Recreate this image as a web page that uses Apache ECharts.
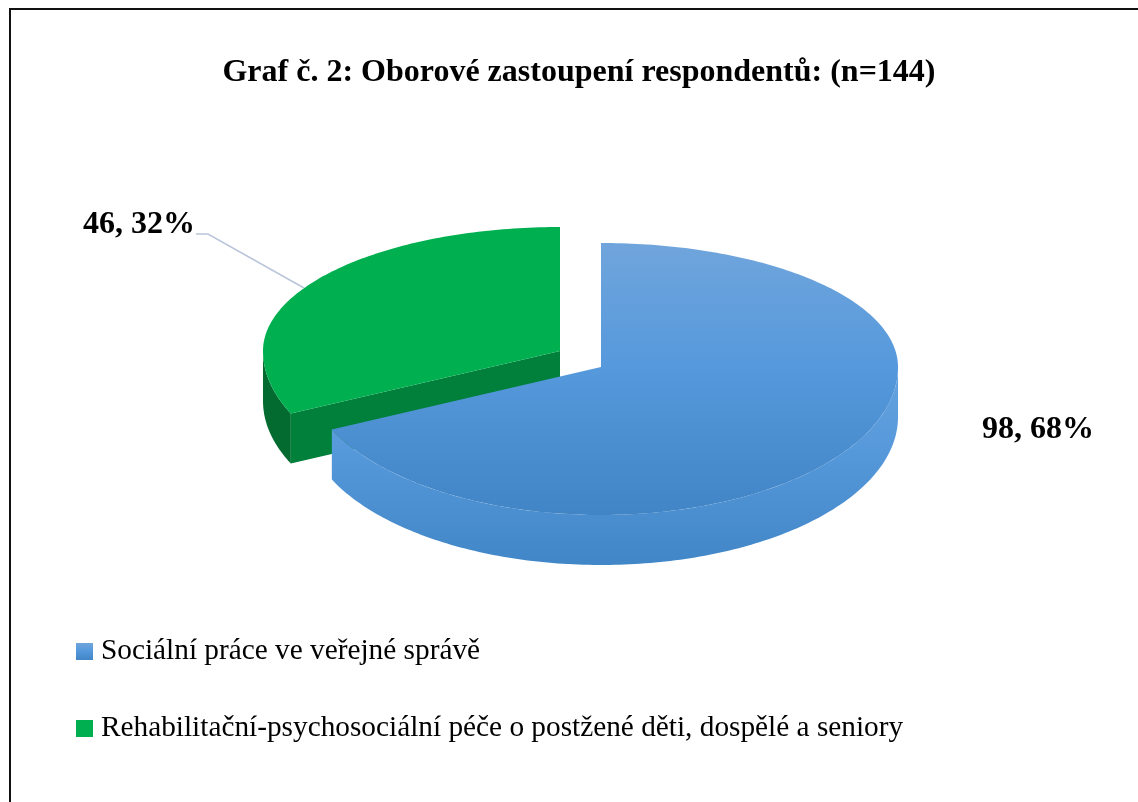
<!DOCTYPE html>
<html>
<head>
<meta charset="utf-8">
<script src="https://cdn.jsdelivr.net/npm/echarts@6/dist/echarts.min.js"></script>
<style>
  html, body { margin: 0; padding: 0; background: #fff; overflow: hidden; }
  #chart { width: 1138px; height: 802px; }
</style>
</head>
<body>
<div id="chart"></div>
<script>
const categories = ['Sociální práce ve veřejné správě', 'Rehabilitační-psychosociální péče o postžené děti, dospělé a seniory'];
const values = [98, 46];
const chartTitle = 'Graf č. 2: Oborové zastoupení respondentů: (n=144)';

const FONT = '"Liberation Serif", "Times New Roman", serif';
const total = values.reduce((a, b) => a + b, 0);

// tilted pie: the far half of the ellipse is flatter than the near one
const RX = 297, RY_FAR = 124, RY_NEAR = 148, DEPTH = 50;

function grad(top, middle, bottom) {
  return new echarts.graphic.LinearGradient(0, 0, 0, 1, [
    { offset: 0, color: top },
    { offset: 0.45, color: middle },
    { offset: 1, color: bottom }
  ]);
}

function rim(cx, cy, a) {
  const c = Math.cos(a);
  return [cx + RX * Math.sin(a), cy - (c > 0 ? RY_FAR : RY_NEAR) * c];
}

function arc(cx, cy, from, to, dy) {
  const pts = [];
  const steps = Math.max(2, Math.ceil(Math.abs(to - from) * 180 / Math.PI));
  for (let i = 0; i <= steps; i++) {
    const p = rim(cx, cy, from + (to - from) * i / steps);
    pts.push([p[0], p[1] + dy]);
  }
  return pts;
}

function poly(points, fill) {
  return { type: 'polygon', shape: { points: points }, style: { fill: fill } };
}

function sliceAngles(index) {
  let before = 0;
  for (let i = 0; i < index; i++) before += values[i];
  return [before / total * 2 * Math.PI, (before + values[index]) / total * 2 * Math.PI];
}

function labelText(index) {
  return values[index] + ', ' + Math.round(values[index] / total * 100) + '%';
}

function text(str, x, y) {
  return {
    type: 'text',
    style: { text: str, x: x, y: y, fill: '#000', font: 'bold 32px ' + FONT, textAlign: 'center', textVerticalAlign: 'middle' }
  };
}

function renderBlue() {
  const cx = 601, cy = 367;
  const [from, to] = sliceAngles(0);
  const children = [];
  // only the near part of the outer wall can be seen
  const wallTop = arc(cx, cy, Math.PI / 2, to, 0);
  const wallBottom = arc(cx, cy, Math.PI / 2, to, DEPTH).reverse();
  children.push(poly(wallTop.concat(wallBottom), grad('#66A3DF', '#5598DA', '#4186C7')));
  children.push(poly([[cx, cy]].concat(arc(cx, cy, from, to, 0)), grad('#70A5DC', '#5699DC', '#4285C6')));
  children.push(text(labelText(0), 1038, 430));
  return { type: 'group', children: children };
}

function renderGreen() {
  const cx = 560, cy = 351;
  const [from, to] = sliceAngles(1);
  const children = [];
  const wallTop = arc(cx, cy, from, 1.5 * Math.PI, 0);
  const wallBottom = arc(cx, cy, from, 1.5 * Math.PI, DEPTH).reverse();
  children.push(poly(wallTop.concat(wallBottom), '#046B30'));
  const edge = rim(cx, cy, from);
  children.push(poly([[cx, cy], edge, [edge[0], edge[1] + DEPTH], [cx, cy + DEPTH]], '#00803A'));
  children.push(poly([[cx, cy]].concat(arc(cx, cy, from, to, 0)), '#00B050'));
  children.push({
    type: 'polyline',
    shape: { points: [[196, 234], [208, 234], [304, 288]] },
    style: { fill: null, stroke: '#B9C5D9', lineWidth: 1.5 }
  });
  children.push(text(labelText(1), 139, 225));
  return { type: 'group', children: children };
}

const chart = echarts.init(document.getElementById('chart'));

chart.setOption({
  backgroundColor: '#fff',
  animation: false,
  title: {
    text: chartTitle,
    left: 574,
    top: 52,
    textAlign: 'center',
    textStyle: { fontFamily: FONT, fontSize: 32, fontWeight: 'bold', color: '#000' }
  },
  legend: {
    orient: 'vertical',
    left: 71,
    top: 632,
    icon: 'rect',
    itemWidth: 17,
    itemHeight: 17,
    itemGap: 48,
    itemStyle: { borderWidth: 0 },
    selectedMode: false,
    data: categories,
    textStyle: { fontFamily: FONT, fontSize: 29.3, color: '#000', padding: [0, 0, 0, 3] }
  },
  graphic: [{
    type: 'polyline',
    silent: true,
    shape: { points: [[10, 802], [10, 9], [1138, 9]] },
    style: { fill: null, stroke: '#111', lineWidth: 2 }
  }],
  series: [
    // green goes first, the blue slice overlaps it
    {
      type: 'custom',
      name: categories[1],
      coordinateSystem: 'none',
      silent: true,
      itemStyle: { color: '#00B050' },
      data: [values[1]],
      renderItem: renderGreen
    },
    {
      type: 'custom',
      name: categories[0],
      coordinateSystem: 'none',
      silent: true,
      itemStyle: { color: grad('#70A5DC', '#5699DC', '#4285C6') },
      data: [values[0]],
      renderItem: renderBlue
    }
  ]
});
</script>
</body>
</html>
